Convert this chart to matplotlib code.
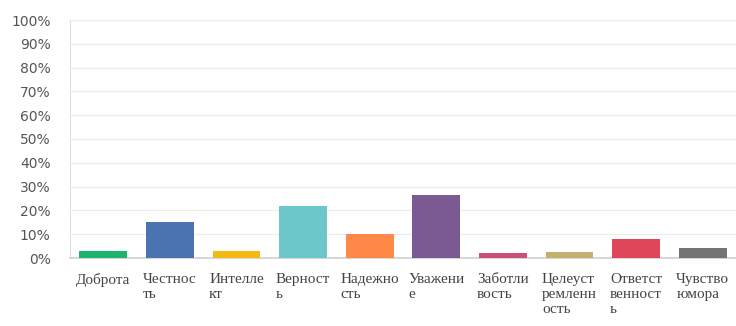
import matplotlib
matplotlib.use("Agg")
import matplotlib.pyplot as plt
from matplotlib.ticker import FuncFormatter, MultipleLocator

categories = ["Доброта", "Честнос\nть", "Интелле\nкт", "Верност\nь", "Надежно\nсть",
              "Уважени\nе", "Заботли\nвость", "Целеуст\nремленн\nость", "Ответст\nвенност\nь", "Чувство\nюмора"]
values = [2.9, 15.3, 2.9, 21.8, 10.0, 26.5, 2.0, 2.5, 7.9, 4.0]
colors = ["#1db56d", "#4a73b1", "#f5ba12", "#6cc7cb", "#ff8747", "#7a5a90",
          "#c9507b", "#c4b172", "#e0465a", "#737474"]

fig = plt.figure(figsize=(7.36, 3.26), dpi=100)
ax = fig.add_axes([70/736, 68/326, 666/736, 238/326])
x = range(len(categories))
ax.bar(x, values, width=0.72, color=colors, zorder=3)
ax.set_xlim(-0.5, len(categories) - 0.5)
ax.set_ylim(0, 100)
ax.yaxis.set_major_locator(MultipleLocator(10))
ax.yaxis.set_major_formatter(FuncFormatter(lambda v, p: f"{int(v)}%"))
ax.grid(axis="y", color="#ececec", linewidth=0.8, zorder=0)
for s in ["top", "right"]:
    ax.spines[s].set_visible(False)
ax.spines["left"].set_color("#e0e0e0")
ax.spines["bottom"].set_color("#d0d0d0")
ax.spines["bottom"].set_linewidth(1.2)
ax.tick_params(axis="y", length=0, pad=14, labelsize=10, labelcolor="#555555")
ax.tick_params(axis="x", length=0, pad=11)
ax.set_xticks(list(x))
ax.set_xticklabels(categories, family="Liberation Serif", fontsize=11, color="#444444",
                   va="top", ha="center", multialignment="left", linespacing=1.18)
fig.savefig("out.png", dpi=100, facecolor="white")
